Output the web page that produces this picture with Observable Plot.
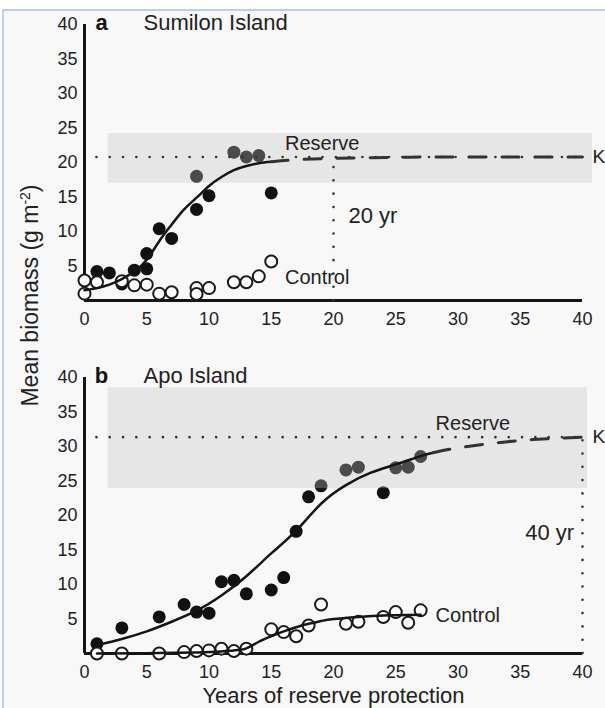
<!DOCTYPE html>
<html><head><meta charset="utf-8">
<script src="https://cdn.jsdelivr.net/npm/d3@7"></script>
<script src="https://cdn.jsdelivr.net/npm/@observablehq/plot@0.6"></script>
<style>
html,body{margin:0;padding:0;background:#fff;}
#frame{position:absolute;left:2px;top:9px;width:603px;height:699px;border-left:2px solid #b9cff0;border-top:2px solid #b9cff0;background:#f8f8f8;box-sizing:border-box;}
#chart{position:absolute;left:0;top:0;}
</style></head><body>
<div id="frame"></div><div id="chart"></div>
<script>
// ---- panels ----
const panels = ["a", "b"];
const islands = ["Sumilon Island", "Apo Island"];

// ---- panel a: Sumilon Island ----
const reserveA_year    = [1, 2, 3, 4, 5, 5, 6, 7, 9, 9, 10, 12, 13, 14, 15];
const reserveA_biomass = [4.2, 4.0, 2.4, 4.4, 4.6, 6.8, 10.4, 9.0, 13.2, 18.0, 15.2, 21.5, 20.8, 21.0, 15.6];
const controlA_year    = [0, 0, 1, 3, 4, 5, 6, 7, 9, 9, 10, 12, 13, 14, 15];
const controlA_biomass = [2.9, 1.0, 2.65, 2.8, 2.2, 2.3, 1.0, 1.2, 1.8, 0.95, 1.8, 2.65, 2.65, 3.5, 5.65];
const fitA_year    = [0, 1, 2, 3, 4, 5, 6, 7, 8, 9, 10, 11, 12, 13, 14, 15];
const fitA_biomass = [1.5, 1.8, 2.3, 3.1, 4.2, 5.9, 8.6, 11.0, 13.2, 14.9, 16.6, 17.9, 18.9, 19.5, 19.9, 20.1];
const projA_year    = [15, 17, 20, 25, 30, 40];
const projA_biomass = [20.1, 20.4, 20.6, 20.75, 20.8, 20.8];

// ---- panel b: Apo Island ----
const reserveB_year    = [1, 3, 6, 8, 9, 10, 11, 12, 13, 15, 16, 17, 18, 19, 21, 22, 24, 25, 26, 27];
const reserveB_biomass = [1.4, 3.7, 5.3, 7.1, 6.0, 5.85, 10.4, 10.6, 8.65, 9.2, 11.0, 17.7, 22.7, 24.3, 26.6, 27.0, 23.3, 26.9, 27.0, 28.55];
const controlB_year    = [1, 3, 6, 8, 9, 10, 11, 12, 13, 15, 16, 17, 18, 19, 21, 22, 24, 25, 26, 27];
const controlB_biomass = [0, 0, 0, 0.2, 0.35, 0.45, 0.7, 0.35, 0.7, 3.5, 3.1, 2.5, 4.05, 7.1, 4.3, 4.6, 5.3, 6.0, 4.45, 6.25];
const fitB_year    = [1, 3, 5, 7, 9, 11, 13, 15, 17, 19, 21, 23, 25, 27, 28];
const fitB_biomass = [1.2, 2.1, 3.2, 4.6, 6.2, 8.4, 11.2, 14.5, 17.8, 21.7, 24.4, 26.2, 27.4, 28.6, 29.1];
const projB_year    = [28, 30, 32, 34, 36, 38, 40];
const projB_biomass = [29.1, 29.8, 30.3, 30.7, 31.0, 31.2, 31.35];
const fitCtrlB_year    = [1, 5, 9, 11, 12, 13, 14, 15, 16, 17, 18, 19, 20, 22, 24, 27];
const fitCtrlB_biomass = [0.0, 0.05, 0.15, 0.3, 0.45, 0.75, 1.7, 2.5, 3.2, 3.8, 4.3, 4.7, 5.0, 5.3, 5.5, 5.6];

// ---- carrying capacity K, its range and years to reach it ----
const kValue   = [20.8, 31.35];
const yearsToK = [20, 40];
const kLow     = [17.0, 23.9];
const kHigh    = [24.2, 38.5];
const kFrom    = [1.9, 1.9];
const kTo      = [40.8, 40.4];

// ---- ticks ----
const xTicks = [0, 5, 10, 15, 20, 25, 30, 35, 40];
const yTicks = [5, 10, 15, 20, 25, 30, 35, 40];

// ---- annotation labels ----
const noteLabels = ["Reserve", "Control", "Reserve", "Control"];
const notePanel  = ["a", "a", "b", "b"];
const noteYear   = [16.1, 16.1, 28.2, 28.2];
const noteValue  = [22.7, 3.3, 33.3, 5.5];
const yrLabels = ["20 yr", "40 yr"];
const yrYear   = [21.2, 35.4];
const yrValue  = [12.3, 17.4];

// ---- build tables ----
const pts = (panel, xs, ys) => xs.map((x, i) => ({panel, year: x, biomass: ys[i]}));
const reserveDots = [...pts("a", reserveA_year, reserveA_biomass), ...pts("b", reserveB_year, reserveB_biomass)];
const controlDots = [...pts("a", controlA_year, controlA_biomass), ...pts("b", controlB_year, controlB_biomass)];
const reserveFit = [...pts("a", fitA_year, fitA_biomass), ...pts("b", fitB_year, fitB_biomass)];
const reserveProj = [...pts("a", projA_year, projA_biomass), ...pts("b", projB_year, projB_biomass)];
const controlFit = pts("b", fitCtrlB_year, fitCtrlB_biomass);
const kTable = panels.map((p, i) => ({panel: p, k: kValue[i], years: yearsToK[i], low: kLow[i], high: kHigh[i], from: kFrom[i], to: kTo[i], yr: yrLabels[i], yrYear: yrYear[i], yrValue: yrValue[i], letter: p, island: islands[i]}));
const notes = noteLabels.map((t, i) => ({panel: notePanel[i], label: t, year: noteYear[i], biomass: noteValue[i]}));

const font = "'Liberation Sans', Arial, Helvetica, sans-serif";
const ink = "#151515";

const chart = Plot.plot({
  width: 605,
  height: 708,
  marginLeft: 84,
  marginRight: 23,
  marginTop: 24,
  marginBottom: 55,
  x: {domain: [0, 40], axis: null},
  y: {domain: [0, 40], axis: null},
  fy: {domain: panels, axis: null, paddingInner: 0.218, paddingOuter: 0, round: false},
  style: {fontFamily: font, background: "transparent", color: "#222", overflow: "visible"},
  marks: [
    Plot.axisY(yTicks, {tickSize: 0, tickPadding: 7, fontSize: 18, label: null}),
    Plot.axisX(xTicks, {tickSize: 0, tickPadding: 12, fontSize: 18, label: null, facetAnchor: null}),
    Plot.ruleX([0], {y1: 0, y2: 40, stroke: ink, strokeWidth: 3}),
    Plot.ruleY([0], {x1: 0, x2: 40, stroke: ink, strokeWidth: 3}),
    Plot.dot(reserveDots, {x: "year", y: "biomass", fy: "panel", r: 6.5, fill: "#111", stroke: "none"}),
    Plot.dot(controlDots, {x: "year", y: "biomass", fy: "panel", r: 6, fill: "#fff", stroke: "#1a1a1a", strokeWidth: 2}),
    Plot.rect(kTable, {x1: "from", x2: "to", y1: "low", y2: "high", fy: "panel", fill: "#c2c2c2", fillOpacity: 0.33}),
    Plot.line(reserveFit, {x: "year", y: "biomass", fy: "panel", z: "panel", curve: "natural", stroke: ink, strokeWidth: 2.5}),
    Plot.line(controlFit, {x: "year", y: "biomass", fy: "panel", curve: "natural", stroke: ink, strokeWidth: 2.5}),
    Plot.line(reserveProj, {x: "year", y: "biomass", fy: "panel", z: "panel", curve: "natural", stroke: "#333", strokeWidth: 3, strokeDasharray: "17,16"}),
    Plot.ruleY(kTable, {y: "k", x1: 1, x2: 40, fy: "panel", stroke: "#333", strokeWidth: 2.6, strokeDasharray: "0,13.3", strokeLinecap: "round"}),
    Plot.ruleX(kTable, {x: "years", y1: 0, y2: "k", fy: "panel", stroke: "#333", strokeWidth: 2.6, strokeDasharray: "0,13.3", strokeLinecap: "round"}),
    Plot.text(kTable, {x: 40, y: "k", fy: "panel", text: () => "K", dx: 10, textAnchor: "start", fontSize: 19, fill: "#222"}),
    Plot.text(kTable, {x: 0, y: 40, fy: "panel", text: "letter", dx: 17, dy: -2, textAnchor: "middle", fontSize: 22, fontWeight: "bold", fill: "#111"}),
    Plot.text(kTable, {x: 0, y: 40, fy: "panel", text: "island", dx: 59, dy: -2, textAnchor: "start", fontSize: 22, fill: "#222"}),
    Plot.text(kTable, {x: "yrYear", y: "yrValue", fy: "panel", text: "yr", textAnchor: "start", fontSize: 22, fill: "#222"}),
    Plot.text(notes, {x: "year", y: "biomass", fy: "panel", text: "label", textAnchor: "start", fontSize: 20, fill: "#222"}),
    Plot.text([{panel: "b", t: "Years of reserve protection"}], {fy: "panel", text: "t", frameAnchor: "bottom", lineAnchor: "middle", textAnchor: "middle", dy: 42, fontSize: 22, fill: "#222"}),
    Plot.text([{panel: "a", t: "Mean biomass (g m-2)"}], {fy: "panel", text: "t", frameAnchor: "left", textAnchor: "middle", lineAnchor: "middle", rotate: -90, dx: -54, dy: 133, fontSize: 23, fill: "#222"})
  ]
});
document.getElementById("chart").append(chart);

// superscript for the unit
d3.select(chart).selectAll("text").each(function () {
  if (this.textContent === "Mean biomass (g m-2)") {
    const t = d3.select(this);
    t.text("Mean biomass (g m");
    t.append("tspan").attr("dy", "-8").attr("font-size", 14).text("-2");
    t.append("tspan").attr("dy", "8").text(")");
  }
});
</script>
</body></html>
